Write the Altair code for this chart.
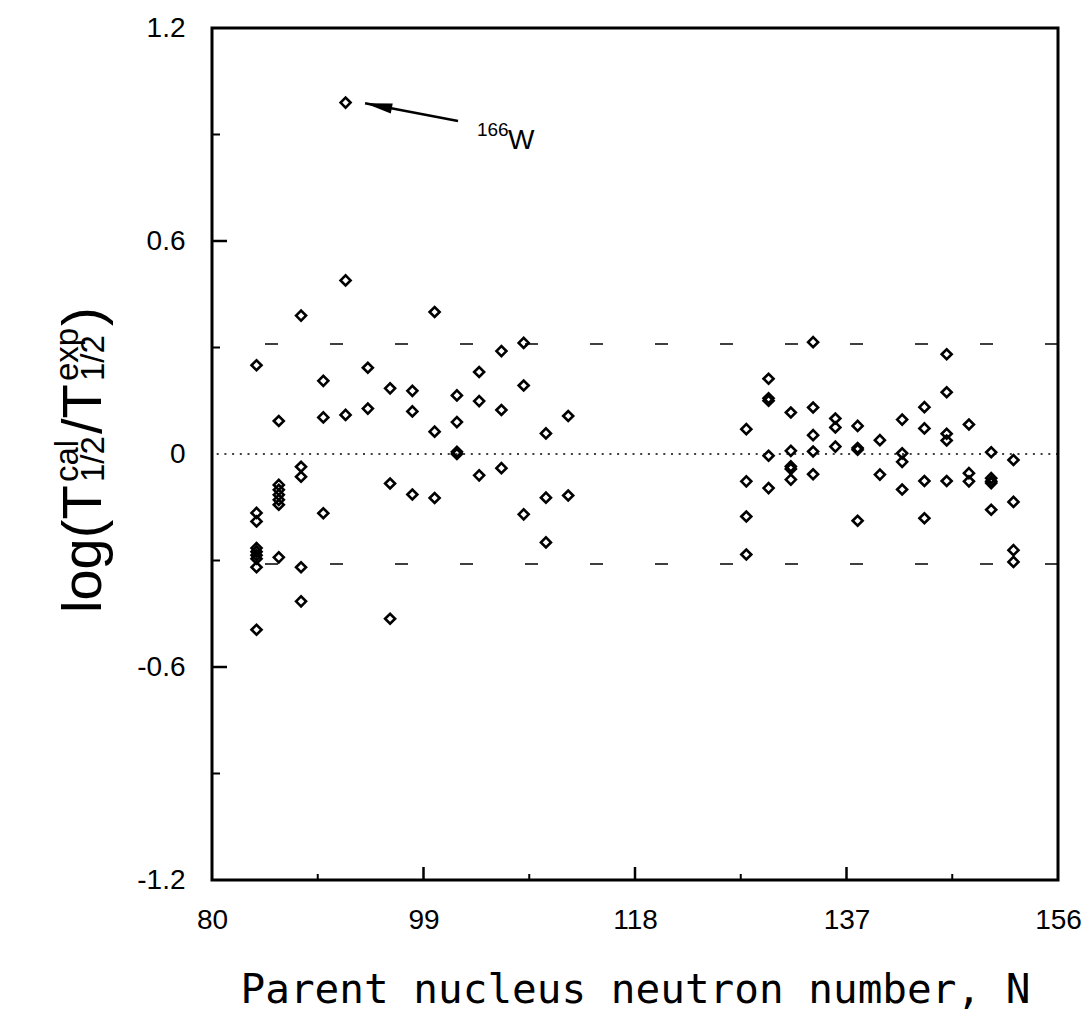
import altair as alt
import pandas as pd

# ---- data ----
group_N = [84, 86, 88, 90, 92, 94, 96, 98, 100, 102, 104, 106, 108, 110, 112,
           128, 130, 132, 134, 136, 138, 140, 142, 144, 146, 148, 150, 152]
group_vals = [
    [0.25, -0.166, -0.19, -0.265, -0.275, -0.285, -0.295, -0.319, -0.495],
    [0.093, -0.087, -0.101, -0.115, -0.129, -0.143, -0.291],
    [0.39, -0.036, -0.064, -0.319, -0.415],
    [0.206, 0.103, -0.167],
    [0.99, 0.489, 0.11],
    [0.243, 0.128],
    [0.185, -0.083, -0.464],
    [0.178, 0.12, -0.114],
    [0.40, 0.063, -0.124],
    [0.165, 0.09, 0.006, 0.0],
    [0.231, 0.149, -0.06],
    [0.29, 0.124, -0.04],
    [0.313, 0.193, -0.17],
    [0.058, -0.123, -0.249],
    [0.107, -0.117],
    [0.07, -0.077, -0.176, -0.283],
    [0.212, 0.157, 0.15, -0.005, -0.096],
    [0.117, 0.009, -0.035, -0.042, -0.072],
    [0.315, 0.131, 0.053, 0.007, -0.057],
    [0.10, 0.075, 0.021],
    [0.079, 0.017, 0.012, -0.188],
    [0.039, -0.058],
    [0.097, 0.002, -0.022, -0.10],
    [0.132, 0.072, -0.076, -0.181],
    [0.281, 0.174, 0.057, 0.038, -0.076],
    [0.083, -0.054, -0.077],
    [0.005, -0.068, -0.077, -0.082, -0.157],
    [-0.017, -0.135, -0.271, -0.304],
]

x_ticks_major = [80, 99, 118, 137, 156]
x_ticks_inner_major = [99, 118, 137]
x_ticks_minor = [89.5, 108.5, 127.5, 146.5]
y_ticks_major = [-1.2, -0.6, 0, 0.6, 1.2]
y_ticks_inner_major = [-0.6, 0.6]
y_ticks_minor = [-0.9, -0.3, 0.3, 0.9]
band_levels = [-0.31, 0.31]
zero_level = [0.0]

arrow_tail = (102.1, 0.938)
arrow_tip = (93.75, 0.988)
label_iso = ("166", 103.8, 0.896)
label_el = ("W", 106.6, 0.859)

# ---- tables ----
rows = []
for n, vals in zip(group_N, group_vals):
    for v in vals:
        rows.append({"N": n, "v": v})
pts = pd.DataFrame(rows)

W, H = 846, 852
xs = alt.Scale(domain=[80, 156], nice=False, zero=False)
ys = alt.Scale(domain=[-1.2, 1.2], nice=False, zero=False)

tick_font = "Liberation Sans"

base_x = alt.X("N:Q", scale=xs, axis=alt.Axis(
    values=x_ticks_major, tickSize=0, domain=False, grid=False,
    labelFont=tick_font, labelFontSize=28, labelColor="black",
    labelPadding=26, labelFlush=False, labelOverlap=False,
    title="Parent nucleus neutron number, N", titleFont="DejaVu Sans Mono",
    titleFontSize=41, titleFontWeight="normal", titleColor="black", titlePadding=36))
base_y = alt.Y("v:Q", scale=ys, axis=alt.Axis(
    values=y_ticks_major, tickSize=0, domain=False, grid=False,
    labelFont=tick_font, labelFontSize=28, labelColor="black",
    labelPadding=27, labelFlush=False, labelOverlap=False,
    labelExpr="datum.value == 0 ? '0' : replace(format(datum.value, '.1f'), '\u2212', '-')",
    title=None))

points = alt.Chart(pts).mark_point(
    shape="diamond", filled=False, size=100, strokeWidth=2.6, color="black", opacity=1
).encode(x=base_x, y=base_y)

frame = alt.Chart(pd.DataFrame({"a": [0]})).mark_rect(
    filled=False, stroke="black", strokeWidth=3
).encode(x=alt.value(0), x2=alt.value(W), y=alt.value(0), y2=alt.value(H))

zero_line = alt.Chart(pd.DataFrame({"v": zero_level})).mark_rule(
    color="black", strokeWidth=1.3, strokeDash=[2, 5.7]
).encode(y=alt.Y("v:Q", scale=ys))

band = alt.Chart(pd.DataFrame({"v": band_levels})).mark_rule(
    color="black", strokeWidth=1.5, strokeDash=[13, 52]
).encode(y=alt.Y("v:Q", scale=ys))

xt_major = alt.Chart(pd.DataFrame({"t": x_ticks_inner_major})).mark_rule(
    color="black", strokeWidth=2.5
).encode(x=alt.X("t:Q", scale=xs), y=alt.value(H), y2=alt.value(H - 13))
xt_minor = alt.Chart(pd.DataFrame({"t": x_ticks_minor})).mark_rule(
    color="black", strokeWidth=2
).encode(x=alt.X("t:Q", scale=xs), y=alt.value(H), y2=alt.value(H - 6))
yt_major = alt.Chart(pd.DataFrame({"t": y_ticks_inner_major})).mark_rule(
    color="black", strokeWidth=2.5
).encode(y=alt.Y("t:Q", scale=ys), x=alt.value(0), x2=alt.value(15))
yt_minor = alt.Chart(pd.DataFrame({"t": y_ticks_minor})).mark_rule(
    color="black", strokeWidth=2
).encode(y=alt.Y("t:Q", scale=ys), x=alt.value(0), x2=alt.value(8))

arrow_df = pd.DataFrame({"N": [arrow_tail[0]], "v": [arrow_tail[1]],
                         "N2": [arrow_tip[0]], "v2": [arrow_tip[1]]})
arrow_line = alt.Chart(arrow_df).mark_rule(color="black", strokeWidth=2.5).encode(
    x=alt.X("N:Q", scale=xs), y=alt.Y("v:Q", scale=ys), x2="N2:Q", y2="v2:Q")
head_df = pd.DataFrame({"N": [arrow_tip[0]], "v": [arrow_tip[1]]})
arrow_head = alt.Chart(head_df).mark_point(
    shape="M0,0 L0.3,1.6 L-0.3,1.6 Z", filled=True, color="black", opacity=1,
    size=1156, angle=281, strokeWidth=0
).encode(x=alt.X("N:Q", scale=xs), y=alt.Y("v:Q", scale=ys))

iso_df = pd.DataFrame({"N": [label_iso[1]], "v": [label_iso[2]], "t": [label_iso[0]]})
el_df = pd.DataFrame({"N": [label_el[1]], "v": [label_el[2]], "t": [label_el[0]]})
iso_text = alt.Chart(iso_df).mark_text(
    align="left", baseline="alphabetic", font=tick_font, fontSize=19, color="black"
).encode(x=alt.X("N:Q", scale=xs), y=alt.Y("v:Q", scale=ys), text="t:N")
el_text = alt.Chart(el_df).mark_text(
    align="left", baseline="alphabetic", font=tick_font, fontSize=28, color="black"
).encode(x=alt.X("N:Q", scale=xs), y=alt.Y("v:Q", scale=ys), text="t:N")

# ---- composite y-axis title (rotated), positioned in pixels relative to plot ----
title_font = "Liberation Sans"
def ttl(txt, px, py, size):
    return alt.Chart(pd.DataFrame({"t": [txt]})).mark_text(
        align="left", baseline="alphabetic", angle=270, font=title_font,
        fontSize=size, color="black"
    ).encode(text="t:N", x=alt.value(px - 212), y=alt.value(py - 28))

title_parts = [
    ttl("log(T", 101, 613, 56),
    ttl("cal", 78, 482, 33),
    ttl("1/2", 104, 482, 33),
    ttl("/T", 101, 434, 56),
    ttl("exp", 78, 381, 33),
    ttl("1/2", 104, 381, 33),
    ttl(")", 101, 326, 56),
]

chart = alt.layer(
    band, zero_line, xt_major, xt_minor, yt_major, yt_minor,
    arrow_line, arrow_head, iso_text, el_text, points, frame, *title_parts
).properties(
    width=W, height=H,
    autosize=alt.AutoSizeParams(type="none"),
    padding={"left": 212, "top": 28, "right": 30, "bottom": 154},
    background="white",
).configure_view(stroke=None, strokeWidth=0)

chart.save("out.html", embed_options={"renderer": "svg", "actions": False})
